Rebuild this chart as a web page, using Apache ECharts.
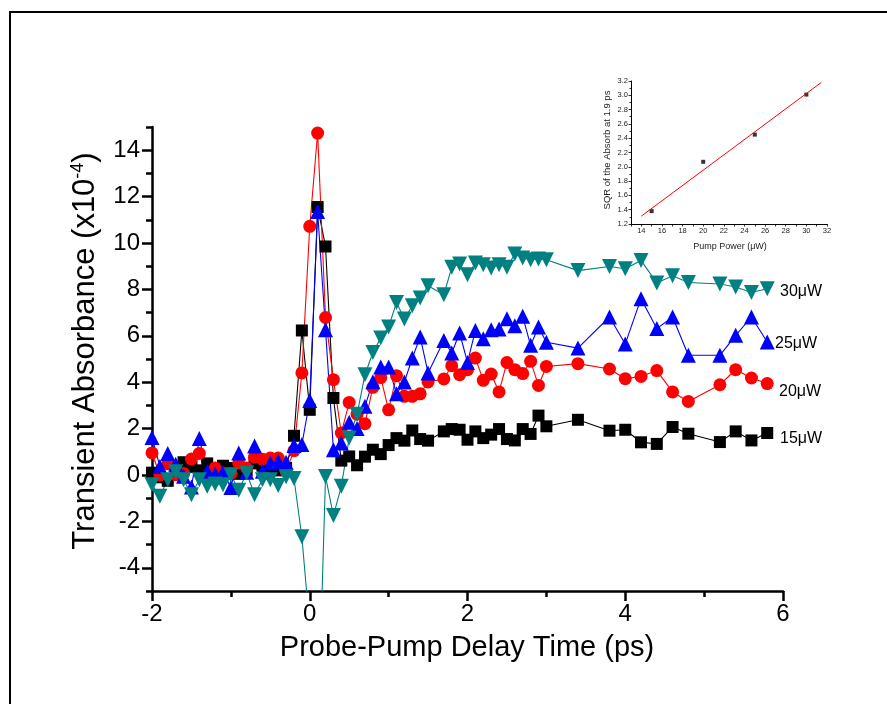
<!DOCTYPE html>
<html><head><meta charset="utf-8">
<script src="https://cdn.jsdelivr.net/npm/echarts@6/dist/echarts.min.js"></script>
<style>html,body{margin:0;padding:0;background:#fff}#c{width:887px;height:704px}</style>
</head><body><div id="c"></div>
<script>
// Probe-pump delay (ps)
const delay = [-2.0,-1.9,-1.8,-1.7,-1.6,-1.5,-1.4,-1.3,-1.2,-1.1,-1.0,-0.9,-0.8,-0.7,-0.6,-0.5,-0.4,-0.3,-0.2,-0.1,
  0.0,0.1,0.2,0.3,0.4,0.5,0.6,0.7,0.8,0.9,1.0,1.1,1.2,1.3,1.4,1.5,
  1.7,1.8,1.9,2.0,2.1,2.2,2.3,2.4,2.5,2.6,2.7,2.8,2.9,3.0,
  3.4,3.8,4.0,4.2,4.4,4.6,4.8,5.2,5.4,5.6,5.8];
const abs15 = [0.10,-0.10,-0.25,0.30,0.55,0.35,0.20,0.50,0.30,0.40,0.30,0.05,0.20,0.50,0.40,0.25,0.20,0.30,1.69,6.23,
  2.81,11.55,9.85,3.32,0.62,0.80,0.42,0.79,1.09,0.90,1.29,1.59,1.48,1.92,1.55,1.48,
  1.88,1.98,1.95,1.52,1.88,1.59,1.74,1.98,1.55,1.49,1.98,1.77,2.56,2.10,
  2.38,1.91,1.95,1.41,1.34,2.07,1.78,1.42,1.88,1.49,1.81];
const abs20 = [0.95,0.00,0.48,0.01,0.07,0.69,0.93,-0.13,0.30,0.01,0.07,0.52,0.30,0.77,0.68,0.73,0.73,0.16,1.05,4.40,
  10.72,14.74,6.79,4.11,1.81,3.13,2.62,2.21,3.78,4.20,2.81,4.28,3.39,3.39,3.50,4.01,
  4.14,4.71,4.32,4.54,5.04,4.08,4.35,3.58,4.85,4.54,4.37,4.90,3.86,4.68,
  4.80,4.57,4.15,4.25,4.50,3.58,3.17,3.89,4.54,4.18,3.94];
const abs25 = [1.62,0.37,0.93,0.46,-0.05,-0.52,1.57,0.16,0.05,0.13,-0.54,0.95,0.12,1.25,0.16,0.52,0.59,0.55,1.27,1.31,
  3.21,11.36,6.26,1.09,1.38,2.27,2.00,2.96,4.02,4.66,4.66,3.50,4.01,5.04,5.95,4.40,
  5.80,5.26,6.12,4.85,6.23,5.87,6.26,6.29,6.74,6.43,6.84,5.59,6.38,5.72,
  5.47,6.81,5.65,7.60,6.31,6.81,5.16,5.16,6.02,6.81,5.73];
const abs30 = [-0.42,-0.92,-0.20,0.14,-0.20,-0.85,-0.20,-0.49,-0.39,-0.42,0.01,-0.66,0.09,-0.85,-0.20,-0.20,-0.45,-0.08,-0.15,-2.66,
  -6.6,-11.5,-0.06,-1.75,-0.49,1.59,2.62,4.32,5.28,5.90,6.38,7.44,6.72,7.30,7.63,8.16,
  7.77,8.95,9.09,8.63,9.14,9.06,8.92,9.06,8.95,9.53,9.35,9.28,9.31,9.28,
  8.81,8.99,8.89,9.25,8.28,8.59,8.30,8.23,8.10,7.87,8.03];
const seriesNames = ['15\u03bcW','20\u03bcW','25\u03bcW','30\u03bcW'];
const yMainTicks = [-4,-2,0,2,4,6,8,10,12,14];

// Inset
const insetPower = [15,20,25,30];
const insetSqr = [1.38,2.07,2.45,3.01];
const fitPower = [14,31.45];
const fitSqr = [1.31,3.18];

const FONT = 'Liberation Sans, Arial, sans-serif';
const zip = (xs, ys) => xs.map((x, i) => [x, ys[i]]);

const chart = echarts.init(document.getElementById('c'), null, {renderer:'canvas'});

function mainSeries(name, data, symbol, size, color, rotate) {
  return {
    name, type:'line', xAxisIndex:0, yAxisIndex:0, data: zip(delay, data),
    symbol, symbolSize: size, symbolRotate: rotate || 0, showAllSymbol:true,
    lineStyle:{color, width:1.1}, itemStyle:{color}, clip:true, z:3
  };
}

const option = {
  animation:false,
  backgroundColor:'#fff',
  grid:[
    {left:152, right:104, top:127, bottom:113},
    {left:631, right:60, top:81, bottom:480}
  ],
  xAxis:[
    {gridIndex:0, type:'value', min:-2, max:6, interval:2,
     axisLine:{onZero:false, lineStyle:{color:'#000', width:2.5}},
     axisTick:{length:10, lineStyle:{color:'#000', width:2.5}},
     minorTick:{show:true, splitNumber:2, length:6, lineStyle:{color:'#000', width:2.5}},
     axisLabel:{color:'#000', fontSize:24, fontFamily:FONT, margin:11},
     splitLine:{show:false}},
    {gridIndex:1, type:'value', min:13, max:32, interval:1,
     axisLine:{onZero:false, lineStyle:{color:'#000', width:1}},
     axisTick:{length:2.5, lineStyle:{color:'#000', width:0.8}},
     axisLabel:{color:'#222', fontSize:7.5, fontFamily:FONT, margin:3, interval:0,
       formatter:v => (v % 2 === 0 ? String(v) : '')},
     splitLine:{show:false}}
  ],
  yAxis:[
    {gridIndex:0, type:'value', min:-5, max:15,
     axisLine:{onZero:false, lineStyle:{color:'#000', width:2.5}},
     axisTick:{length:10, customValues:yMainTicks, lineStyle:{color:'#000', width:2.5}},
     axisLabel:{color:'#000', fontSize:24, fontFamily:FONT, margin:12, customValues:yMainTicks},
     splitLine:{show:false}},
    {gridIndex:0, type:'value', min:-5, max:15, interval:2, position:'left', offset:0,
     axisLine:{show:false, onZero:false},
     axisTick:{length:6, lineStyle:{color:'#000', width:2.5}},
     axisLabel:{show:false},
     splitLine:{show:false}},
    {gridIndex:1, type:'value', min:1.2, max:3.2, interval:0.2,
     axisLine:{onZero:false, lineStyle:{color:'#000', width:1}},
     axisTick:{length:2.5, lineStyle:{color:'#000', width:0.8}},
     minorTick:{show:true, splitNumber:2, length:1.5, lineStyle:{color:'#000', width:0.8}},
     axisLabel:{color:'#222', fontSize:7.5, fontFamily:FONT, margin:3, formatter:v => v.toFixed(1)},
     splitLine:{show:false}}
  ],
  series:[
    mainSeries(seriesNames[0], abs15, 'rect', 12, '#000000'),
    mainSeries(seriesNames[1], abs20, 'circle', 13, '#ff0000'),
    mainSeries(seriesNames[2], abs25, 'triangle', 15, '#0000ff'),
    mainSeries(seriesNames[3], abs30, 'triangle', 15, '#008080', 180),
    {type:'line', xAxisIndex:1, yAxisIndex:2, data: zip(fitPower, fitSqr), showSymbol:false,
     symbol:'none', lineStyle:{color:'#ff0000', width:1}},
    {type:'scatter', xAxisIndex:1, yAxisIndex:2, data: zip(insetPower, insetSqr),
     symbol:'rect', symbolSize:4, itemStyle:{color:'#000'}}
  ],
  graphic:[
    {type:'rect', shape:{x:10, y:12, width:900, height:720}, style:{fill:null, stroke:'#000', lineWidth:2}, z:-10, silent:true},
    {type:'text', x:85, y:351, rotation:Math.PI/2,
     style:{text:'Transient Absorbance (x10{s|-4})', font:'31px ' + FONT, fill:'#000',
       align:'center', verticalAlign:'middle',
       rich:{s:{fontSize:18, fontFamily:FONT, fill:'#000', verticalAlign:'top', padding:[0,0,12,0]}}}},
    {type:'text', x:467, y:648,
     style:{text:'Probe-Pump Delay Time (ps)', font:'29px ' + FONT, fill:'#000', align:'center', verticalAlign:'middle'}},
    {type:'text', x:780, y:292, style:{text:seriesNames[3], font:'16px ' + FONT, fill:'#000', verticalAlign:'middle'}},
    {type:'text', x:775, y:344, style:{text:seriesNames[2], font:'16px ' + FONT, fill:'#000', verticalAlign:'middle'}},
    {type:'text', x:779, y:392, style:{text:seriesNames[1], font:'16px ' + FONT, fill:'#000', verticalAlign:'middle'}},
    {type:'text', x:780, y:439, style:{text:seriesNames[0], font:'16px ' + FONT, fill:'#000', verticalAlign:'middle'}},
    {type:'text', x:730, y:247, style:{text:'Pump Power (\u03bcW)', font:'9px ' + FONT, fill:'#222', align:'center', verticalAlign:'middle'}},
    {type:'text', x:607, y:150, rotation:Math.PI/2,
     style:{text:'SQR of the Absorb at 1.9 ps', font:'9.5px ' + FONT, fill:'#222', align:'center', verticalAlign:'middle'}}
  ]
};
chart.setOption(option);
</script>
</body></html>
